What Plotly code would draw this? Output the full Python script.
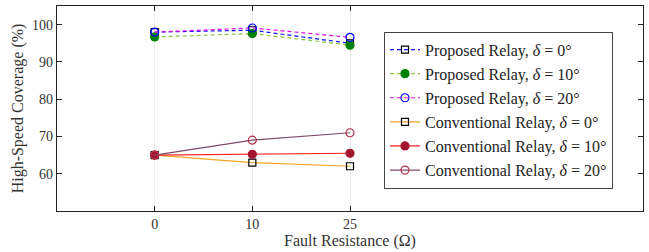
import plotly.graph_objects as go

categories = ["0", "10", "25"]
prop_d0 = [98.0, 98.5, 95.0]
prop_d10 = [96.7, 97.6, 94.5]
prop_d20 = [98.0, 99.1, 96.6]
conv_d0 = [65.0, 63.0, 62.0]
conv_d10 = [65.0, 65.2, 65.5]
conv_d20 = [65.0, 69.0, 71.0]

series = [
    ("Proposed Relay, <i>δ</i> = 0°", prop_d0, "#1010ff", "dash", "square-open", "#000000", 7),
    ("Proposed Relay, <i>δ</i> = 10°", prop_d10, "#8cc63f", "dash", "circle", "#008000", 8),
    ("Proposed Relay, <i>δ</i> = 20°", prop_d20, "#e010e0", "dash", "circle-open", "#0000ff", 8),
    ("Conventional Relay, <i>δ</i> = 0°", conv_d0, "#f5a623", "solid", "square-open", "#000000", 7),
    ("Conventional Relay, <i>δ</i> = 10°", conv_d10, "#ff2020", "solid", "circle", "#a2142f", 8),
    ("Conventional Relay, <i>δ</i> = 20°", conv_d20, "#7e4a6a", "solid", "circle-open", "#b8304a", 8),
]

fig = go.Figure()
x_idx = list(range(len(categories)))
for i, (name, vals, lc, dash, sym, mc, ms) in enumerate(series):
    fig.add_trace(go.Scatter(
        x=x_idx, y=vals, name=name, mode="lines+markers",
        legendgroup=f"g{i}",
        line=dict(color=lc, width=1.2, dash="4px,3px" if dash == "dash" else "solid"),
        marker=dict(symbol=sym, color=mc, size=ms, line=dict(color=mc, width=1.2)),
    ))

font_family = "Liberation Serif, DejaVu Serif, serif"
fig.update_layout(
    width=649, height=252,
    margin=dict(l=57, r=6, t=6, b=41),
    paper_bgcolor="white", plot_bgcolor="white",
    font=dict(family=font_family, size=13, color="#333333"),
    showlegend=True,
    legend=dict(
        x=0.558, y=0.875, xanchor="left", yanchor="top",
        bgcolor="white", bordercolor="#444444", borderwidth=1,
        font=dict(family=font_family, size=16, color="#222222"),
        tracegroupgap=0.3,
        entrywidth=227, entrywidthmode="pixels",
    ),
    xaxis=dict(
        range=[-1, 5], tickmode="array", tickvals=x_idx, ticktext=categories,
        showgrid=True, gridcolor="#ebebeb", gridwidth=1,
        showline=True, linecolor="#222222", linewidth=1.2, mirror="allticks",
        ticks="inside", ticklen=5, tickcolor="#222222",
        zeroline=False, automargin=False,
        title=dict(text="Fault Resistance (Ω)", standoff=2, font=dict(size=16)),
        tickfont=dict(size=14),
    ),
    yaxis=dict(
        range=[50, 105], tickvals=[60, 70, 80, 90, 100],
        showgrid=False,
        showline=True, linecolor="#222222", linewidth=1.2, mirror="allticks",
        ticks="inside", ticklen=5, tickcolor="#222222",
        zeroline=False, automargin=False,
        title=dict(text="High-Speed Coverage (%)", standoff=4, font=dict(size=16)),
        tickfont=dict(size=14),
    ),
)

fig.write_html(
    "out.html",
    config={"displayModeBar": False},
    post_script="document.body.style.margin='0';document.body.style.overflow='hidden';",
)
